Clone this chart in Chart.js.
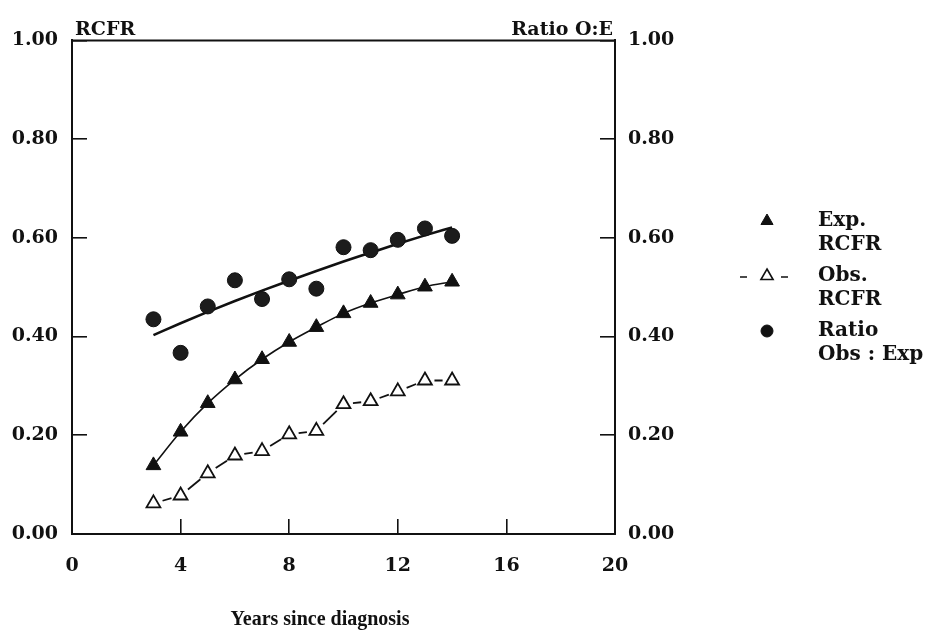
<!DOCTYPE html>
<html>
<head>
<meta charset="utf-8">
<script src="https://cdn.jsdelivr.net/npm/chart.js@4.4.1/dist/chart.umd.min.js"></script>
<style>
  html, body { margin: 0; padding: 0; background: #fff; }
</style>
</head>
<body>
<canvas id="rcfr" width="928" height="633"></canvas>
<script>
// years since diagnosis
const years = [3, 4, 5, 6, 7, 8, 9, 10, 11, 12, 13, 14];
// expected and observed RCFR (left axis)
const expRcfr = [0.139, 0.207, 0.265, 0.313, 0.354, 0.389, 0.419, 0.447, 0.468, 0.485, 0.501, 0.511];
const obsRcfr = [0.062, 0.078, 0.123, 0.159, 0.168, 0.202, 0.209, 0.263, 0.269, 0.289, 0.311, 0.311];
// observed : expected ratio (right axis) and its fitted curve
const ratioObsExp = [0.435, 0.367, 0.461, 0.514, 0.476, 0.516, 0.497, 0.581, 0.575, 0.596, 0.619, 0.604];
const ratioFit = [0.403, 0.427, 0.450, 0.472, 0.493, 0.513, 0.533, 0.552, 0.570, 0.588, 0.605, 0.621];

const xMin = 0, xMax = 20, xStep = 4;
const yMin = 0, yMax = 1, yStep = 0.2;

const INK = '#111';
const FONT = 'DejaVu Serif';
const TITLE_FONT = 'Liberation Serif';
const tickFont = {family: FONT, size: 19, weight: 'bold'};

function pairs(vals) {
  return years.map((yr, i) => ({x: yr, y: vals[i]}));
}

// legend, corner titles, x title and the top frame line
const decorations = {
  id: 'decorations',
  afterDraw(chart) {
    const ctx = chart.ctx;
    const area = chart.chartArea;
    ctx.save();
    ctx.strokeStyle = INK;
    ctx.lineWidth = 2;
    ctx.beginPath();
    ctx.moveTo(area.left, area.top);
    ctx.lineTo(area.right, area.top);
    ctx.stroke();

    ctx.fillStyle = INK;
    ctx.font = 'bold 19px "' + FONT + '"';
    ctx.textBaseline = 'alphabetic';
    ctx.textAlign = 'left';
    ctx.fillText('RCFR', area.left + 3, area.top - 5);
    ctx.textAlign = 'right';
    ctx.fillText('Ratio O:E', area.right - 2, area.top - 5);

    ctx.textAlign = 'center';
    ctx.textBaseline = 'middle';
    ctx.font = 'bold 20px "' + TITLE_FONT + '"';
    ctx.fillText('Years since diagnosis', 320, 620);

    const mx = 767, tx = 818;
    const items = [
      {marker: 'solid', y: 221, lines: ['Exp.', 'RCFR']},
      {marker: 'open', y: 276, lines: ['Obs.', 'RCFR']},
      {marker: 'dot', y: 331, lines: ['Ratio', 'Obs : Exp']}
    ];
    ctx.textAlign = 'left';
    items.forEach(it => {
      ctx.fillStyle = INK;
      ctx.strokeStyle = INK;
      if (it.marker === 'solid') {
        ctx.lineWidth = 1;
        Chart.helpers.drawPoint(ctx, {pointStyle: 'triangle', radius: 7, borderWidth: 1, rotation: 0}, mx, it.y);
      } else if (it.marker === 'open') {
        ctx.fillStyle = '#fff';
        ctx.lineWidth = 1.6;
        Chart.helpers.drawPoint(ctx, {pointStyle: 'triangle', radius: 7, borderWidth: 1.6, rotation: 0}, mx, it.y);
        ctx.beginPath();
        ctx.moveTo(740, it.y + 1); ctx.lineTo(747, it.y + 1);
        ctx.moveTo(781, it.y + 1); ctx.lineTo(788, it.y + 1);
        ctx.stroke();
      } else {
        ctx.lineWidth = 1;
        Chart.helpers.drawPoint(ctx, {pointStyle: 'circle', radius: 6, borderWidth: 1, rotation: 0}, mx, it.y);
      }
      ctx.fillStyle = INK;
      ctx.font = 'bold 20px "' + FONT + '"';
      it.lines.forEach((t, k) => ctx.fillText(t, tx, it.y + k * 24));
    });
    ctx.restore();
  }
};

new Chart(document.getElementById('rcfr'), {
  type: 'line',
  data: {
    datasets: [
      {
        label: 'Exp. RCFR',
        data: pairs(expRcfr),
        yAxisID: 'y',
        borderColor: INK,
        borderWidth: 1.6,
        cubicInterpolationMode: 'monotone',
        pointStyle: 'triangle',
        pointRadius: 8.5,
        pointBackgroundColor: INK,
        pointBorderColor: INK,
        pointBorderWidth: 1,
      },
      {
        label: 'Obs. RCFR',
        data: pairs(obsRcfr),
        yAxisID: 'y',
        borderColor: INK,
        borderWidth: 1.8,
        // one short dash centred between each pair of markers
        segment: {
          borderDash: c => {
            const len = Math.hypot(c.p1.x - c.p0.x, c.p1.y - c.p0.y);
            return [Math.max(len - 19, 3), 400];
          },
          borderDashOffset: c => -9.5 - c.p0DataIndex * 1e-4,
        },
        pointStyle: 'triangle',
        pointRadius: 8,
        pointBackgroundColor: '#fff',
        pointBorderColor: INK,
        pointBorderWidth: 1.8,
      },
      {
        label: 'Ratio Obs : Exp',
        data: pairs(ratioObsExp),
        yAxisID: 'y2',
        showLine: false,
        pointStyle: 'circle',
        pointRadius: 7.5,
        pointBackgroundColor: '#1c1c1c',
        pointBorderColor: INK,
        pointBorderWidth: 1,
      },
      {
        label: 'Ratio fit',
        data: pairs(ratioFit),
        yAxisID: 'y2',
        borderColor: INK,
        borderWidth: 2.6,
        cubicInterpolationMode: 'monotone',
        pointRadius: 0,
      }
    ]
  },
  options: {
    responsive: false,
    devicePixelRatio: 1,
    animation: false,
    layout: {padding: {top: 25, left: 0, right: 0, bottom: 0}},
    plugins: {
      legend: {display: false},
      tooltip: {enabled: false},
    },
    scales: {
      x: {
        type: 'linear',
        position: 'bottom',
        min: xMin,
        max: xMax,
        afterFit: s => { s.height = 99; },
        ticks: {stepSize: xStep, color: INK, font: tickFont, padding: 36, maxRotation: 0},
        grid: {drawOnChartArea: false, drawTicks: true, tickLength: -15, color: INK, lineWidth: 1.6},
        border: {display: true, color: INK, width: 2},
      },
      y: {
        position: 'left',
        min: yMin,
        max: yMax,
        afterFit: s => { s.width = 72; },
        ticks: {stepSize: yStep, color: INK, font: tickFont, padding: 29, callback: v => v.toFixed(2)},
        grid: {drawOnChartArea: false, drawTicks: true, tickLength: -15, color: INK, lineWidth: 1.6},
        border: {display: true, color: INK, width: 2},
      },
      y2: {
        position: 'right',
        min: yMin,
        max: yMax,
        afterFit: s => { s.width = 313; },
        ticks: {stepSize: yStep, color: INK, font: tickFont, padding: 28, callback: v => v.toFixed(2)},
        grid: {drawOnChartArea: false, drawTicks: true, tickLength: -15, color: INK, lineWidth: 1.6},
        border: {display: true, color: INK, width: 2},
      }
    }
  },
  plugins: [decorations]
});
</script>
</body>
</html>
